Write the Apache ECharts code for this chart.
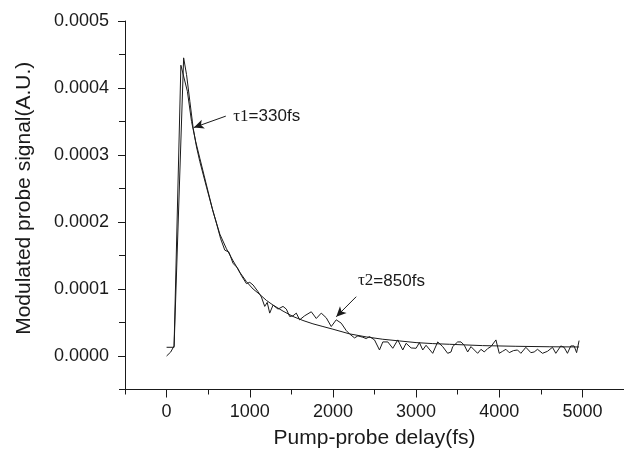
<!DOCTYPE html>
<html>
<head>
<meta charset="utf-8">
<script src="https://cdn.jsdelivr.net/npm/echarts@6/dist/echarts.min.js"></script>
<style>
  html, body { margin: 0; padding: 0; background: #fff; }
  #chart { width: 624px; height: 456px; }
</style>
</head>
<body>
<div id="chart"></div>
<script>
// measured signal (delay fs, signal)
const delayData = [0, 50, 90, 172, 250, 300, 350, 400, 450, 500, 550, 600, 650, 700, 750, 800, 850, 900, 960, 1000,
  1040, 1100, 1140, 1180, 1210, 1240, 1280, 1340, 1400, 1440, 1480, 1520, 1560, 1600, 1660, 1740, 1800, 1860, 1920, 1980,
  2040, 2100, 2160, 2200, 2260, 2300, 2360, 2400, 2440, 2500, 2560, 2600, 2660, 2720, 2780, 2840, 2880, 2940, 3000, 3040,
  3080, 3120, 3200, 3260, 3320, 3380, 3420, 3440, 3500, 3540, 3580, 3620, 3660, 3700, 3740, 3780, 3820, 3860, 3900, 3960,
  4000, 4040, 4080, 4120, 4170, 4220, 4260, 4320, 4380, 4420, 4460, 4520, 4580, 4640, 4680, 4740, 4780, 4820, 4860, 4900,
  4930, 4960];
const signalData = [0, 6e-6, 1.5e-5, 4.34e-4, 3.95e-4, 3.5e-4, 3.2e-4, 2.95e-4, 2.7e-4, 2.45e-4, 2.2e-4, 1.98e-4, 1.75e-4, 1.58e-4, 1.55e-4, 1.38e-4, 1.32e-4, 1.2e-4, 1.08e-4, 1.1e-4,
  1.06e-4, 9.6e-5, 8.8e-5, 7.4e-5, 8.0e-5, 6.4e-5, 7.6e-5, 7.0e-5, 7.4e-5, 7.0e-5, 5.9e-5, 6.0e-5, 6.4e-5, 5.4e-5, 6.0e-5, 6.6e-5, 5.6e-5, 6.4e-5, 5.7e-5, 4.4e-5,
  5.4e-5, 4.9e-5, 3.8e-5, 3.3e-5, 2.7e-5, 3.0e-5, 2.8e-5, 2.6e-5, 2.9e-5, 2.4e-5, 9e-6, 2.1e-5, 2.1e-5, 1.15e-5, 2.4e-5, 9e-6, 1.9e-5, 1.2e-5, 1.15e-5, 2.0e-5,
  9e-6, 1.6e-5, 4e-6, 2.1e-5, 1.4e-5, 4e-6, 6e-6, 1.4e-5, 2.1e-5, 2.1e-5, 1.6e-5, 6e-6, 1.4e-5, 9e-6, 4e-6, 1e-5, 6e-6, 1.1e-5, 1.4e-5, 2.4e-5,
  4e-6, 7e-6, 1e-5, 5e-6, 8e-6, 9e-6, 4e-6, 1.3e-5, 5e-6, 6e-6, 1e-5, 4e-6, 7e-6, 1.3e-5, 4e-6, 1.5e-5, 1.3e-5, 4e-6, 1.5e-5, 1.5e-5,
  5e-6, 2.3e-5];

// fitted curve
const fitDelay = [0, 90, 205, 240, 280, 320, 360, 400, 480, 560, 640, 720, 800, 880, 960, 1040, 1120, 1200, 1280, 1400,
  1520, 1640, 1760, 1880, 2000, 2200, 2400, 2600, 2800, 3000, 3200, 3400, 3800, 4200, 4600, 4960];
const fitSignal = [1.3e-5, 1.3e-5, 4.45e-4, 4.2e-4, 3.8e-4, 3.4e-4, 3.12e-4, 2.9e-4, 2.52e-4, 2.15e-4, 1.82e-4, 1.6e-4, 1.42e-4, 1.25e-4, 1.11e-4, 1.0e-4, 9.2e-5, 8.3e-5, 7.6e-5, 6.7e-5,
  5.9e-5, 5.3e-5, 4.8e-5, 4.4e-5, 4.0e-5, 3.3e-5, 2.85e-5, 2.5e-5, 2.25e-5, 2.0e-5, 1.85e-5, 1.75e-5, 1.55e-5, 1.45e-5, 1.38e-5, 1.35e-5];

const xTickValues = [0, 1000, 2000, 3000, 4000, 5000];
const yTickValues = [0, 0.0001, 0.0002, 0.0003, 0.0004, 0.0005];

// annotations: [text, text position, arrow start, arrow end]
const notes = [
  { tau: 'τ1', rest: '=330fs', at: [796, 3.58e-4], from: [712, 3.58e-4], to: [328, 3.41e-4] },
  { tau: 'τ2', rest: '=850fs', at: [2296, 1.12e-4], from: [2280, 8.85e-5], to: [2040, 5.86e-5] }
];

const ink = '#1a1a1a';
const font = 'Liberation Sans, Arial, sans-serif';

const chart = echarts.init(document.getElementById('chart'));

const xBase = { type: 'value', min: -500, max: 5500, interval: 500, splitLine: { show: false } };
const yBase = { type: 'value', min: -0.00005, max: 0.0005, interval: 0.00005, splitLine: { show: false } };

chart.setOption({
  animation: false,
  grid: { left: 125, top: 21, width: 500, bottom: 66.5 },
  xAxis: [
    Object.assign({}, xBase, {
      name: 'Pump-probe delay(fs)',
      nameLocation: 'middle',
      nameGap: 38,
      nameTextStyle: { fontFamily: font, fontSize: 21, color: ink },
      axisLine: { onZero: false, lineStyle: { color: ink, width: 1 } },
      axisTick: { customValues: xTickValues, length: 8, lineStyle: { color: ink } },
      axisLabel: {
        customValues: xTickValues, margin: 14, fontFamily: font, fontSize: 18, color: ink,
        formatter: v => String(v)
      }
    }),
    Object.assign({}, xBase, {
      position: 'bottom',
      axisLine: { show: false, onZero: false },
      axisTick: { length: 5, lineStyle: { color: ink } },
      axisLabel: { show: false }
    })
  ],
  yAxis: [
    Object.assign({}, yBase, {
      name: 'Modulated probe signal(A.U.)',
      nameLocation: 'middle',
      nameGap: 90,
      nameTextStyle: { fontFamily: font, fontSize: 21, color: ink, padding: [0, 0, 0, 14] },
      axisLine: { show: true, onZero: false, lineStyle: { color: ink, width: 1 } },
      axisTick: { customValues: yTickValues, length: 7, lineStyle: { color: ink } },
      axisLabel: {
        customValues: yTickValues, margin: 16, fontFamily: font, fontSize: 18, color: ink,
        formatter: v => v.toFixed(4)
      }
    }),
    Object.assign({}, yBase, {
      position: 'left',
      axisLine: { show: false, onZero: false },
      axisTick: { length: 6, lineStyle: { color: ink } },
      axisLabel: { show: false }
    })
  ],
  series: [
    {
      type: 'line',
      data: delayData.map((t, i) => [t, signalData[i]]),
      symbol: 'none',
      lineStyle: { color: ink, width: 1 },
      silent: true
    },
    {
      type: 'line',
      data: fitDelay.map((t, i) => [t, fitSignal[i]]),
      symbol: 'none',
      lineStyle: { color: ink, width: 1 },
      silent: true,
      markLine: {
        silent: true,
        symbol: ['none', 'arrow'],
        symbolSize: [7, 10],
        label: { show: false },
        lineStyle: { color: ink, width: 1, type: 'solid' },
        data: notes.map(n => [{ coord: n.from }, { coord: n.to }])
      },
      markPoint: {
        silent: true,
        symbol: 'circle',
        symbolSize: 1,
        itemStyle: { color: 'rgba(0,0,0,0)' },
        label: {
          show: true,
          position: 'right',
          distance: 0,
          color: ink,
          formatter: p => '{g|' + notes[p.dataIndex].tau + '}{s|' + notes[p.dataIndex].rest + '}',
          rich: {
            g: { fontFamily: 'Liberation Serif, Times New Roman, serif', fontSize: 17, color: ink },
            s: { fontFamily: font, fontSize: 17, color: ink }
          }
        },
        data: notes.map(n => ({ coord: n.at }))
      }
    }
  ]
});
</script>
</body>
</html>
